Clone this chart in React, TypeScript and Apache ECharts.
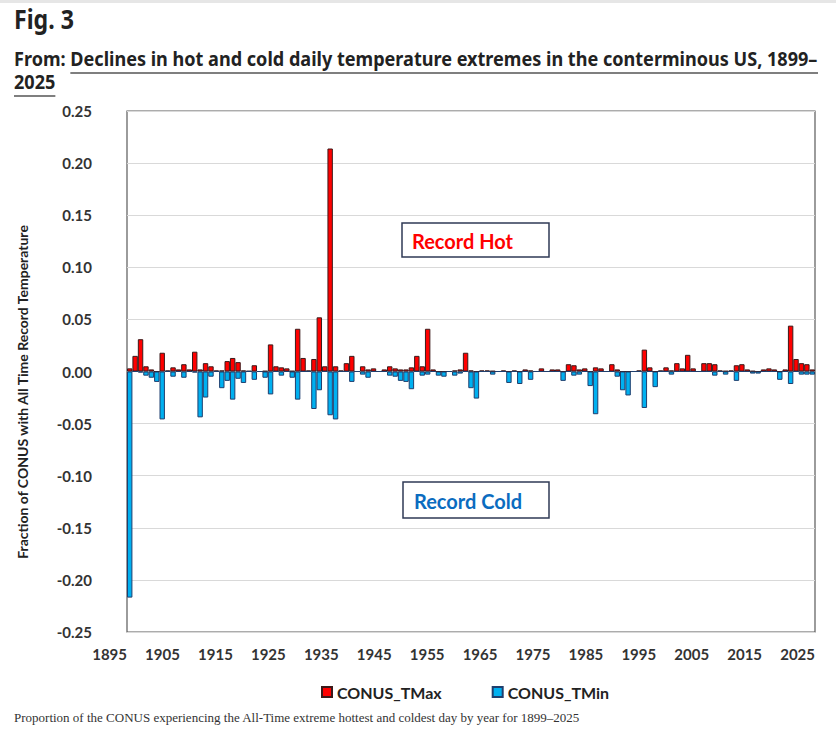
import React, { useEffect, useRef } from "react";
import * as echarts from "echarts";

// Years with data, 1899–2025 (one bar slot per year)
const FIRST_YEAR = 1899;
const LAST_YEAR = 2025;
const years: string[] = [];
for (let y = FIRST_YEAR; y <= LAST_YEAR; y++) years.push(String(y));

// Tick labels printed under the plot
const tickYears = [
  "1895", "1905", "1915", "1925", "1935", "1945", "1955",
  "1965", "1975", "1985", "1995", "2005", "2015", "2025",
];

// Fraction of CONUS setting an all-time record high (TMax), by year
const tmax = [
  0.003, 0.015, 0.031, 0.005, 0.002, 0, 0.018, 0.001, 0.004, 0.002,
  0.007, 0.002, 0.019, 0.002, 0.008, 0.005, 0.001, 0.001, 0.01, 0.013,
  0.009, 0.001, 0.0005, 0.006, 0, 0.0005, 0.026, 0.005, 0.004, 0.003,
  0.0005, 0.041, 0.013, 0.001, 0.012, 0.052, 0.005, 0.214, 0.005, 0.001,
  0.008, 0.015, 0, 0.005, 0.002, 0.003, 0, 0.002, 0.005, 0.003,
  0.002, 0.002, 0.004, 0.015, 0.005, 0.041, 0.002, 0, 0, 0,
  0.001, 0.002, 0.018, 0.001, 0, 0.001, 0.001, 0.0005, 0, 0.001,
  0, 0.001, 0, 0.002, 0.001, 0, 0.003, 0, 0.002, 0.002,
  0, 0.007, 0.006, 0.002, 0.003, 0, 0.004, 0.003, 0, 0.007,
  0.002, 0, 0, 0, 0.001, 0.021, 0.004, 0, 0.001, 0.004,
  0.001, 0.008, 0.003, 0.016, 0.003, 0, 0.008, 0.008, 0.007, 0.001,
  0.0005, 0.001, 0.006, 0.007, 0.002, 0.0005, 0, 0.002, 0.003, 0.002,
  0, 0.002, 0.044, 0.012, 0.008, 0.007, 0.002,
];

// Fraction of CONUS setting an all-time record low (TMin), plotted downward
const tmin = [
  -0.217, 0, -0.001, -0.004, -0.006, -0.01, -0.046, 0, -0.005, 0,
  -0.006, 0, -0.001, -0.044, -0.025, -0.005, 0, -0.016, -0.009, -0.027,
  -0.007, -0.011, 0, -0.008, 0, -0.006, -0.022, 0, -0.004, 0,
  -0.006, -0.027, 0, 0, -0.036, -0.018, 0, -0.042, -0.046, 0,
  0, -0.01, 0, -0.003, -0.006, 0, 0, 0, -0.004, -0.005,
  -0.009, -0.01, -0.017, 0, -0.004, -0.003, 0, -0.004, -0.005, 0,
  -0.004, -0.002, 0, -0.016, -0.026, 0, 0, -0.003, 0, 0,
  -0.011, 0, -0.012, 0, -0.008, 0, 0, 0, 0, 0,
  -0.009, 0, -0.004, -0.003, 0, -0.014, -0.041, 0, 0, 0,
  -0.005, -0.018, -0.023, 0, 0, -0.035, 0, -0.015, 0, 0,
  -0.003, 0, 0, 0, 0, 0, 0, 0, -0.004, 0,
  -0.003, 0, -0.009, 0, 0, -0.002, -0.002, 0, 0, 0,
  -0.008, 0, -0.012, 0, -0.003, -0.003, -0.003,
];

const HEADER_FAMILY = '"Noto Sans", "Open Sans", sans-serif';
const CHART_FAMILY = 'Lato, "Open Sans", sans-serif';
const CAPTION_FAMILY = '"Liberation Serif", "DejaVu Serif", serif';

const W = 836;
const H = 739;

function measure(text: string, font: string): number {
  const ctx = document.createElement("canvas").getContext("2d");
  if (!ctx) return text.length * 10;
  ctx.font = font;
  return ctx.measureText(text).width;
}

export default function App() {
  const ref = useRef<HTMLDivElement>(null);

  useEffect(() => {
    if (!ref.current) return;
    const chart = echarts.init(ref.current, null, { renderer: "svg", width: W, height: H });

    // Condensed header: a regular bold face squeezed horizontally
    const headFont = `bold 20px ${HEADER_FAMILY}`;
    const fromText = "From: ";
    const line1 = fromText + "Declines in hot and cold daily temperature extremes in the conterminous US, 1899–";
    const line1W = measure(line1, headFont);
    const sx = 804 / line1W;
    const underlineStart = 14 + measure(fromText, headFont) * sx;
    const yearW = measure("2025", headFont) * sx;

    const figFont = `bold 26px ${HEADER_FAMILY}`;
    const figSx = 60 / measure("Fig. 3", figFont);

    chart.setOption({
      animation: false,
      backgroundColor: "#ffffff",
      grid: {
        left: 127,
        right: W - 815,
        top: 111,
        bottom: H - 632,
        show: true,
        borderColor: "#5a5a5a",
        borderWidth: 1.2,
        backgroundColor: "transparent",
      },
      legend: {
        data: ["CONUS_TMax", "CONUS_TMin"],
        left: 316,
        top: 679,
        icon: "rect",
        itemWidth: 10,
        itemHeight: 10,
        itemGap: 50,
        textStyle: { fontFamily: CHART_FAMILY, fontWeight: "bold", fontSize: 16, color: "#222" },
      },
      xAxis: [
        {
          type: "category",
          data: years,
          boundaryGap: true,
          axisTick: { show: false },
          axisLabel: { show: false },
          axisLine: { show: true, onZero: true, lineStyle: { color: "#a6a6a6", width: 1 } },
          splitLine: { show: false },
        },
        {
          type: "category",
          data: tickYears,
          boundaryGap: false,
          position: "bottom",
          axisTick: { show: false },
          axisLine: { show: false, onZero: false },
          splitLine: { show: false },
          axisLabel: {
            margin: 14,
            align: "right",
            fontFamily: CHART_FAMILY,
            fontWeight: "bold",
            fontSize: 15,
            color: "#333",
          },
        },
      ],
      yAxis: {
        type: "value",
        min: -0.25,
        max: 0.25,
        interval: 0.05,
        axisLine: { show: false },
        axisTick: { show: false },
        splitLine: { show: true, lineStyle: { color: "#d9d9d9", width: 1 } },
        axisLabel: {
          margin: 35,
          fontFamily: CHART_FAMILY,
          fontWeight: "bold",
          fontSize: 15,
          color: "#333",
          formatter: (v: number) => v.toFixed(2),
        },
      },
      series: [
        {
          name: "CONUS_TMax",
          type: "bar",
          xAxisIndex: 0,
          data: tmax,
          barWidth: "100%",
          barGap: "-100%",
          itemStyle: { color: "#ff0000", borderColor: "#3b1a1a", borderWidth: 1 },
        },
        {
          name: "CONUS_TMin",
          type: "bar",
          xAxisIndex: 0,
          data: tmin,
          barWidth: "100%",
          barGap: "-100%",
          itemStyle: { color: "#00b0f0", borderColor: "#1f3f6e", borderWidth: 1 },
        },
      ],
      graphic: [
        { type: "rect", shape: { x: 0, y: 0, width: W, height: 3 }, style: { fill: "#e6e6e6" } },
        {
          type: "text",
          x: 14,
          y: 6,
          scaleX: figSx,
          style: { text: "Fig. 3", font: figFont, fill: "#222" },
        },
        {
          type: "text",
          x: 14,
          y: 49,
          scaleX: sx,
          style: { text: line1, font: headFont, fill: "#222" },
        },
        {
          type: "line",
          shape: { x1: underlineStart, y1: 73, x2: 818, y2: 73 },
          style: { stroke: "#555", lineWidth: 1.5 },
        },
        {
          type: "text",
          x: 14,
          y: 72,
          scaleX: sx,
          style: { text: "2025", font: headFont, fill: "#222" },
        },
        {
          type: "line",
          shape: { x1: 14, y1: 96, x2: 14 + yearW, y2: 96 },
          style: { stroke: "#555", lineWidth: 1.5 },
        },
        {
          type: "text",
          x: 22,
          y: 392,
          rotation: Math.PI / 2,
          style: {
            text: "Fraction of CONUS with All Time Record Temperature",
            font: `bold 14px ${CHART_FAMILY}`,
            fill: "#222",
            align: "center",
            verticalAlign: "middle",
          },
        },
        {
          type: "rect",
          z: 10,
          shape: { x: 402, y: 223, width: 147, height: 34 },
          style: { fill: "#ffffff", stroke: "#2f3a56", lineWidth: 1.5 },
        },
        {
          type: "text",
          z: 11,
          x: 412,
          y: 241,
          style: {
            text: "Record Hot",
            font: `bold 20px ${CHART_FAMILY}`,
            fill: "#ff0000",
            verticalAlign: "middle",
          },
        },
        {
          type: "rect",
          z: 10,
          shape: { x: 403, y: 482, width: 146, height: 36 },
          style: { fill: "#ffffff", stroke: "#2f3a56", lineWidth: 1.5 },
        },
        {
          type: "text",
          z: 11,
          x: 414,
          y: 501,
          style: {
            text: "Record Cold",
            font: `bold 20px ${CHART_FAMILY}`,
            fill: "#0b6cc0",
            verticalAlign: "middle",
          },
        },
        {
          type: "text",
          x: 14,
          y: 711,
          style: {
            text:
              "Proportion of the CONUS experiencing the All-Time extreme hottest and coldest day by year for 1899–2025",
            font: `13px ${CAPTION_FAMILY}`,
            fill: "#333",
          },
        },
      ],
    });

    return () => chart.dispose();
  }, []);

  return (
    <div
      ref={ref}
      style={{ position: "fixed", left: 0, top: 0, width: W, height: H, background: "#fff" }}
    />
  );
}
